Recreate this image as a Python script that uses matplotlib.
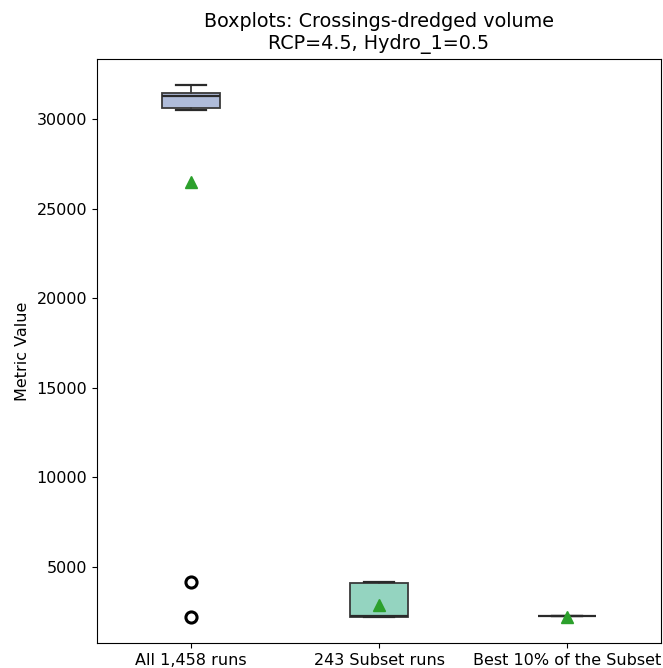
import matplotlib
matplotlib.use('Agg')
import matplotlib.pyplot as plt

# box statistics
labels = ['All 1,458 runs', '243 Subset runs', 'Best 10% of the Subset']
med = [31280, 2240, 2240]
q1 = [30620, 2230, 2240]
q3 = [31450, 4130, 2240]
whislo = [30500, 2220, 2240]
whishi = [31880, 4150, 2240]
means = [26480, 2870, 2220]
fliers = [[4160, 2200], [], []]
box_colors = ['#afbcda', '#94d4c0', '#fcb597']

stats = []
for i in range(len(labels)):
    stats.append({'label': labels[i], 'med': med[i], 'q1': q1[i], 'q3': q3[i],
                  'whislo': whislo[i], 'whishi': whishi[i], 'mean': means[i],
                  'fliers': fliers[i]})

fig = plt.figure(figsize=(6.63, 6.68), dpi=100)
ax = fig.add_axes([97 / 663, 25 / 668, 564 / 663, 584 / 668])

bp = ax.bxp(stats, widths=0.31, showmeans=True, patch_artist=True,
            boxprops=dict(edgecolor='#3a3a3a', linewidth=1.3),
            whiskerprops=dict(color='#3a3a3a', linewidth=1.3),
            capprops=dict(color='#2a2a2a', linewidth=1.6),
            medianprops=dict(color='#2a2a2a', linewidth=1.6),
            meanprops=dict(marker='^', markerfacecolor='#2ca02c', markeredgecolor='#2ca02c', markersize=8),
            flierprops=dict(marker='o', markerfacecolor='none', markeredgecolor='black',
                            markeredgewidth=2.2, markersize=8))
for patch, c in zip(bp['boxes'], box_colors):
    patch.set_facecolor(c)

ax.set_xlim(0.5, 3.5)
ax.set_ylim(760, 33350)
ax.set_ylabel('Metric Value', fontsize=11.5, labelpad=5)
ax.set_title('Boxplots: Crossings-dredged volume\nRCP=4.5, Hydro_1=0.5', fontsize=13.8, pad=7)
ax.tick_params(labelsize=11.5)

fig.savefig('out.png', dpi=100)
